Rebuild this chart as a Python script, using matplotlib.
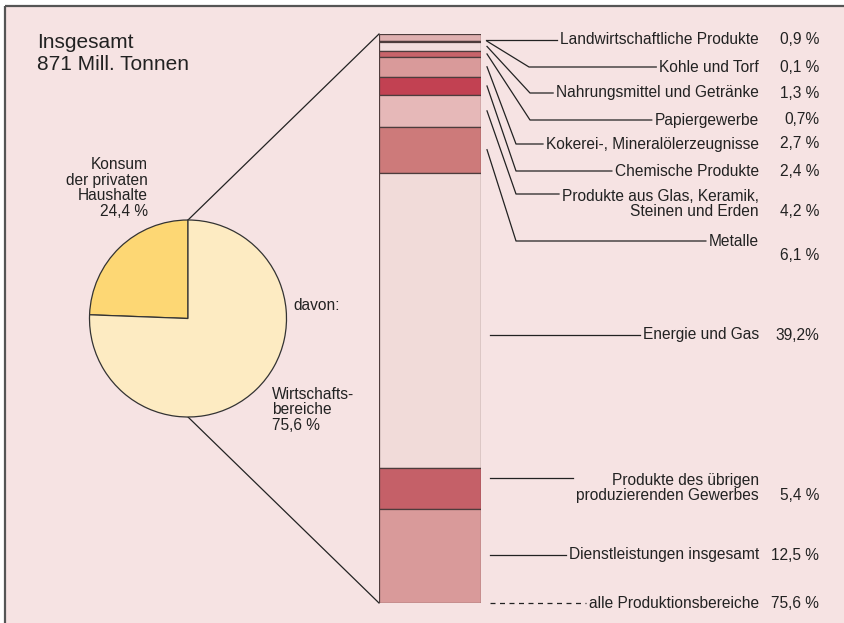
"""
Materialverbrauch 871 Mill. Tonnen: Kreis (Konsum / Wirtschaftsbereiche)
plus gestapelte Saeule der Produktionsbereiche.
Output: out.png
"""

import numpy as np
import matplotlib
matplotlib.use("Agg")
import matplotlib.pyplot as plt
from matplotlib.patches import Rectangle

plt.rcParams["font.family"] = ["Liberation Sans", "DejaVu Sans"]

# --- data ---
pie_labels = ["Konsum\nder privaten\nHaushalte\n24,4 %", "Wirtschafts-\nbereiche\n75,6 %"]
pie_values = [24.4, 75.6]

sectors = [
    "Landwirtschaftliche Produkte",
    "Kohle und Torf",
    "Nahrungsmittel und Getränke",
    "Papiergewerbe",
    "Kokerei-, Mineralölerzeugnisse",
    "Chemische Produkte",
    "Produkte aus Glas, Keramik,\nSteinen und Erden",
    "Metalle",
    "Energie und Gas",
    "Produkte des übrigen\nproduzierenden Gewerbes",
    "Dienstleistungen insgesamt",
]
shares = [0.9, 0.1, 1.3, 0.7, 2.7, 2.4, 4.2, 6.1, 39.2, 5.4, 12.5]
share_labels = ["0,9 %", "0,1 %", "1,3 %", "0,7%", "2,7 %", "2,4 %",
                "4,2 %", "6,1 %", "39,2%", "5,4 %", "12,5 %"]
total_label = "alle Produktionsbereiche"
total_value = "75,6 %"

# --- styles ---
BG = "#f6e3e3"
INK = "#222222"
pie_colors = ["#fdd774", "#fdebc2"]
bar_colors = ["#dfb0b0", "#6a3a3a", "#f3dede", "#c8646a", "#d99a9a", "#c24152",
              "#e6b8b8", "#cd7a7a", "#f1dbd9", "#c56068", "#d99a9a"]

# label layout (figure pixels, y downwards)
label_y = [40, 67, 93, 120, 144, 171, 204, 241, 335, 488, 555]
lead_y = [40, 67, 93, 120, 144, 171, 194, 241, 335, 478, 555]
pct_y = [40, 67, 93, 120, 144, 171, 212, 256, 335, 496, 555]
elbow_x = [None, 529, 530, 530, 516, 516, 516, 516, None, None, None]
TEXT_RIGHT = 759
PCT_RIGHT = 819
FS = 11.2
LS = 1.05

W, H = 845, 623
fig = plt.figure(figsize=(W / 100, H / 100), dpi=100)
fig.patch.set_facecolor("white")

over = fig.add_axes([0, 0, 1, 1], zorder=0)
over.set_xlim(0, W)
over.set_ylim(H, 0)
over.axis("off")
over.add_patch(Rectangle((5, 6), W, H, facecolor=BG, edgecolor="none"))
over.plot([5, 5], [6, H], color="#555555", lw=1.6, solid_capstyle="butt")
over.plot([5, W], [6, 6], color="#555555", lw=1.6, solid_capstyle="butt")

# stacked column
bar_ax = fig.add_axes([379 / W, 1 - 603 / H, 102 / W, 569 / H], zorder=1)
bar_ax.patch.set_alpha(0)
bottoms = np.cumsum(shares) - np.array(shares)
bar_ax.bar(0.5, shares, bottom=bottoms, width=1.0, color=bar_colors,
           edgecolor="#4d3c3c", linewidth=0.9)
bar_ax.set_xlim(0, 1)
bar_ax.set_ylim(sum(shares), 0)
bar_ax.axis("off")

# pie
pie_ax = fig.add_axes([(188 - 98.5) / W, 1 - (318.5 + 98.5) / H, 197 / W, 197 / H], zorder=1)
pie_ax.patch.set_alpha(0)
pie_ax.pie(pie_values, colors=pie_colors, startangle=90, counterclock=True,
           radius=1, wedgeprops=dict(edgecolor="#333333", linewidth=0.9))
pie_ax.set_xlim(-1, 1)
pie_ax.set_ylim(-1, 1)


def to_px(ax_, xy):
    return over.transData.inverted().transform(ax_.transData.transform(xy))


# connector lines pie -> column
for pie_pt, bar_pt in [((0, 1), (0, 0)), ((0, -1), (0, sum(shares)))]:
    p = to_px(pie_ax, pie_pt)
    b = to_px(bar_ax, bar_pt)
    over.plot([p[0], b[0]], [p[1], b[1]], color=INK, lw=0.9)

# titles
over.text(37, 43, "Insgesamt", fontsize=15, color=INK, va="center", ha="left")
over.text(37, 64, "871 Mill. Tonnen", fontsize=15, color=INK, va="center", ha="left")

over.text(148, 188, pie_labels[0], fontsize=FS, color=INK, ha="right", va="center",
          multialignment="right", linespacing=LS)
over.text(272, 410, pie_labels[1], fontsize=FS, color=INK, ha="left", va="center",
          linespacing=LS)
over.text(293, 305, "davon:", fontsize=FS, color=INK, ha="left", va="center")

# sector labels
texts = []
for name, ly, pct, py in zip(sectors, label_y, share_labels, pct_y):
    t = over.text(TEXT_RIGHT, ly, name, fontsize=FS, color=INK, ha="right",
                  va="center", multialignment="right", linespacing=LS)
    texts.append(t)
    over.text(PCT_RIGHT, py, pct, fontsize=FS, color=INK, ha="right", va="center")

t_total = over.text(TEXT_RIGHT, 603, total_label, fontsize=FS, color=INK,
                    ha="right", va="center")
over.text(PCT_RIGHT, 603, total_value, fontsize=FS, color=INK, ha="right", va="center")

fig.canvas.draw()
renderer = fig.canvas.get_renderer()


def text_left(t):
    bb = t.get_window_extent(renderer)
    return over.transData.inverted().transform((bb.x0, bb.y0))[0]


# leader lines
mids = np.cumsum(shares) - np.array(shares) / 2
bar_right = to_px(bar_ax, (1, 0))[0]
for i, t in enumerate(texts):
    end_x = text_left(t) - 3
    if elbow_x[i] is None:
        if i == 0:
            start = to_px(bar_ax, (1, mids[i]))
            xs = [start[0] + 5, end_x]
            ys = [lead_y[i], lead_y[i]]
        else:
            xs = [bar_right + 9, end_x]
            ys = [lead_y[i], lead_y[i]]
    else:
        start = to_px(bar_ax, (1, mids[i]))
        xs = [start[0] + 6, elbow_x[i], end_x]
        ys = [start[1], lead_y[i], lead_y[i]]
    over.plot(xs, ys, color=INK, lw=0.9)

over.plot([bar_right + 9, text_left(t_total) - 3], [603, 603], color=INK, lw=0.9,
          linestyle=(0, (4, 3.6)))

fig.savefig("out.png", dpi=100, facecolor="white")
